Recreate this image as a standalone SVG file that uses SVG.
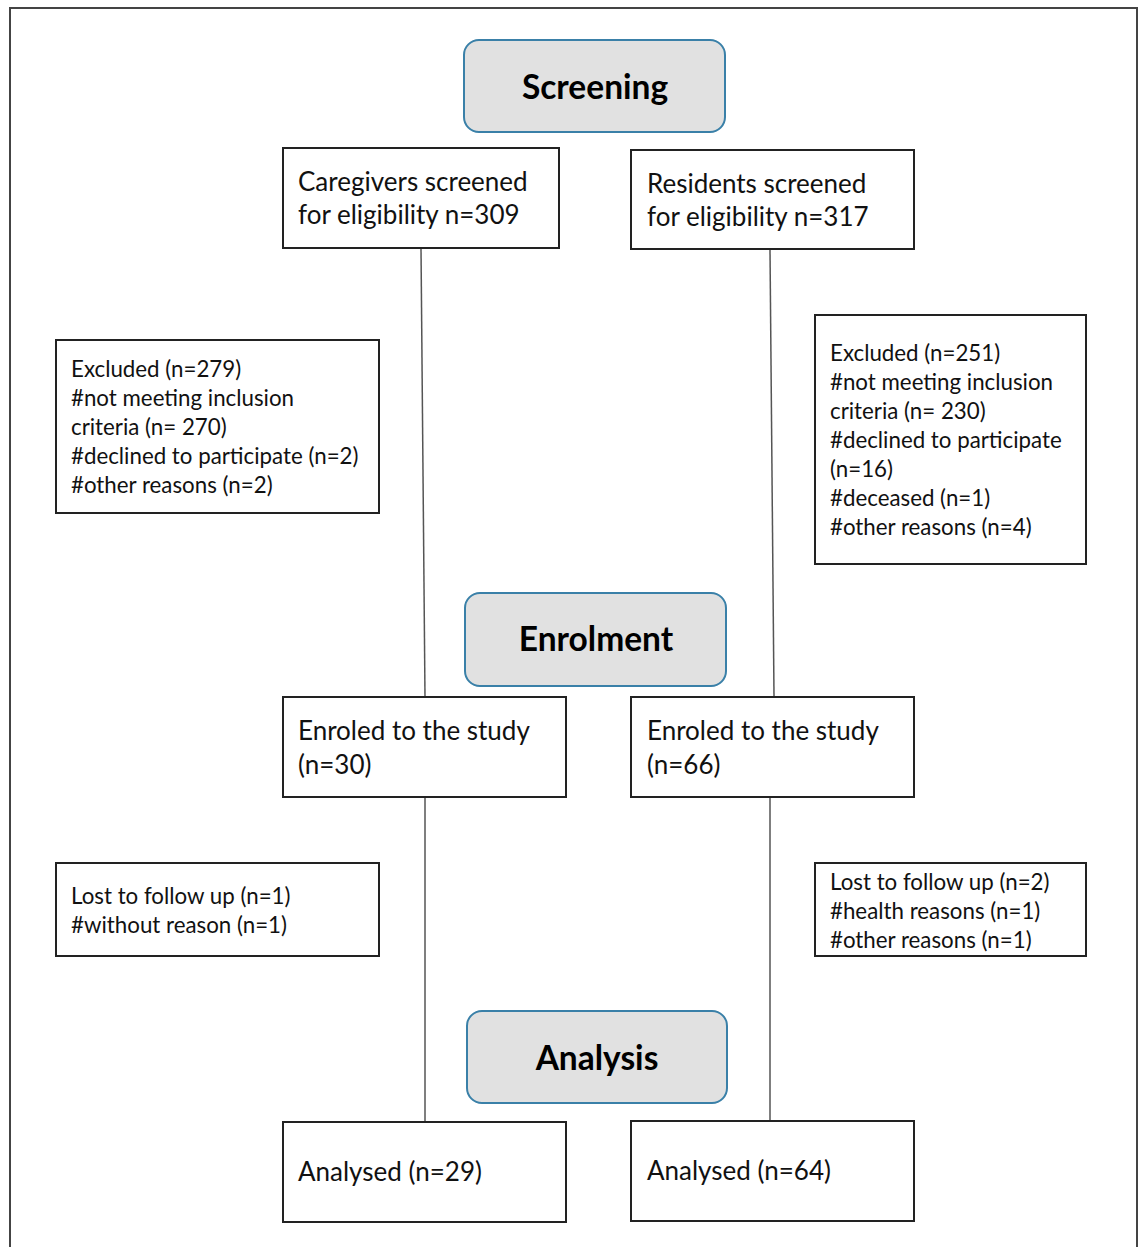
<svg xmlns="http://www.w3.org/2000/svg" width="1143" height="1247" viewBox="0 0 1143 1247">
<style>
.box{fill:#fff;stroke:#222;stroke-width:2}
.phase{fill:#e1e1e1;stroke:#3a80a8;stroke-width:2}
.t{font-family:Lato,"Open Sans",sans-serif;font-size:26px;fill:#111}
.s{font-family:Lato,"Open Sans",sans-serif;font-size:22.3px;fill:#111}
.h{font-family:Lato,"Open Sans",sans-serif;font-size:33.5px;font-weight:bold;fill:#000;text-anchor:middle}
.c{stroke:#555;stroke-width:1.5;fill:none}
</style>
<rect width="1143" height="1247" fill="#fff"/>
<path d="M10 1247 V8 H1137 V1247" fill="none" stroke="#444" stroke-width="2"/>
<g id="connectors">
<line class="c" x1="421" y1="248" x2="425" y2="697"/>
<line class="c" x1="770" y1="250" x2="774" y2="697"/>
<line class="c" x1="425" y1="797" x2="425" y2="1122"/>
<line class="c" x1="770" y1="797" x2="770" y2="1121"/>
</g>
<g id="screening">
<rect class="phase" x="464" y="40" width="261" height="92" rx="15"/>
<text class="h" x="595" y="99">Screening</text>
</g>
<g id="caregivers-screened">
<rect class="box" x="283" y="148" width="276" height="100"/>
<text class="t" x="298" y="191">Caregivers screened</text>
<text class="t" x="298" y="224">for eligibility n=309</text>
</g>
<g id="residents-screened">
<rect class="box" x="631" y="150" width="283" height="99"/>
<text class="t" x="647" y="193">Residents screened</text>
<text class="t" x="647" y="226">for eligibility n=317</text>
</g>
<g id="excluded-caregivers">
<rect class="box" x="56" y="340" width="323" height="173"/>
<text class="s" x="71" y="377">Excluded (n=279)</text>
<text class="s" x="71" y="406">#not meeting inclusion</text>
<text class="s" x="71" y="435">criteria (n= 270)</text>
<text class="s" x="71" y="464">#declined to participate (n=2)</text>
<text class="s" x="71" y="493">#other reasons (n=2)</text>
</g>
<g id="excluded-residents">
<rect class="box" x="815" y="315" width="271" height="249"/>
<text class="s" x="830" y="361">Excluded (n=251)</text>
<text class="s" x="830" y="390">#not meeting inclusion</text>
<text class="s" x="830" y="419">criteria (n= 230)</text>
<text class="s" x="830" y="448">#declined to participate</text>
<text class="s" x="830" y="477">(n=16)</text>
<text class="s" x="830" y="506">#deceased (n=1)</text>
<text class="s" x="830" y="535">#other reasons (n=4)</text>
</g>
<g id="enrolment">
<rect class="phase" x="465" y="593" width="261" height="93" rx="15"/>
<text class="h" x="596" y="651">Enrolment</text>
</g>
<g id="enroled-caregivers">
<rect class="box" x="283" y="697" width="283" height="100"/>
<text class="t" x="298" y="740">Enroled to the study</text>
<text class="t" x="298" y="774">(n=30)</text>
</g>
<g id="enroled-residents">
<rect class="box" x="631" y="697" width="283" height="100"/>
<text class="t" x="647" y="740">Enroled to the study</text>
<text class="t" x="647" y="774">(n=66)</text>
</g>
<g id="lost-caregivers">
<rect class="box" x="56" y="863" width="323" height="93"/>
<text class="s" x="71" y="904">Lost to follow up (n=1)</text>
<text class="s" x="71" y="933">#without reason (n=1)</text>
</g>
<g id="lost-residents">
<rect class="box" x="815" y="863" width="271" height="93"/>
<text class="s" x="830" y="890">Lost to follow up (n=2)</text>
<text class="s" x="830" y="919">#health reasons (n=1)</text>
<text class="s" x="830" y="948">#other reasons (n=1)</text>
</g>
<g id="analysis">
<rect class="phase" x="467" y="1011" width="260" height="92" rx="15"/>
<text class="h" x="597" y="1070">Analysis</text>
</g>
<g id="analysed-caregivers">
<rect class="box" x="283" y="1122" width="283" height="100"/>
<text class="t" x="298" y="1181">Analysed (n=29)</text>
</g>
<g id="analysed-residents">
<rect class="box" x="631" y="1121" width="283" height="100"/>
<text class="t" x="647" y="1180">Analysed (n=64)</text>
</g>
</svg>
